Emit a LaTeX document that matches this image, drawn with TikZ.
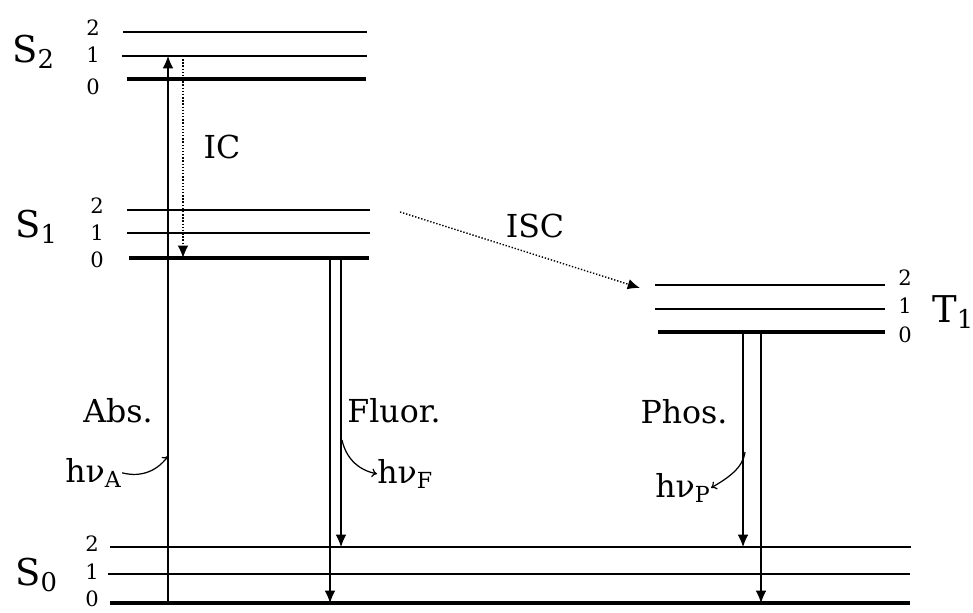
\documentclass[tikz,border=0pt]{standalone}
\usepackage{fontspec}
\setmainfont{DejaVu Serif}
\usetikzlibrary{arrows.meta}

\begin{document}
\begin{tikzpicture}[x=0.02cm, y=-0.02cm,
    level/.style={line width=0.9pt},
    ground/.style={line width=1.8pt},
    trans/.style={line width=0.6pt, -{Latex[length=7pt, width=6pt]}},
    nonrad/.style={line width=0.8pt, densely dotted, -{Latex[length=7pt, width=6pt]}},
    photon/.style={line width=0.7pt, -{To[length=3pt, width=5pt]}},
    lbl/.style={inner sep=0pt, font=\fontsize{18}{20}\selectfont},
    state/.style={inner sep=0pt, anchor=base west, font=\fontsize{21}{24}\selectfont},
    num/.style={inner sep=0pt, font=\fontsize{12}{14}\selectfont}]
    \useasboundingbox (0,0) rectangle (973,612);
    % ── Niveaux S2 ──────────────────────────────────────────────────────────
    \draw[level]  (123,32) -- (367,32);
    \draw[level]  (122,56) -- (367,56);
    \draw[ground] (127,79) -- (366,79);
    \node[state] (S2) at (12,62) {S\textsubscript{2}};
    \node[num] (S2n2) at (93,28) {2};
    \node[num] (S2n1) at (93,55) {1};
    \node[num] (S2n0) at (93,87) {0};
    % ── Niveaux S1 ──────────────────────────────────────────────────────────
    \draw[level]  (127,210) -- (370,210);
    \draw[level]  (127,233) -- (370,233);
    \draw[ground] (129,258) -- (369,258);
    \node[state] (S1) at (15,237) {S\textsubscript{1}};
    \node[num] (S1n2) at (97,206) {2};
    \node[num] (S1n1) at (97,233) {1};
    \node[num] (S1n0) at (97,260) {0};
    % ── Niveaux T1 ──────────────────────────────────────────────────────────
    \draw[level]  (655,285) -- (885,285);
    \draw[level]  (655,309) -- (885,309);
    \draw[ground] (658,332) -- (885,332);
    \node[state] (T1) at (932,322) {T\textsubscript{1}};
    \node[num] (T1n2) at (905,278) {2};
    \node[num] (T1n1) at (905,306) {1};
    \node[num] (T1n0) at (905,335) {0};
    % ── Niveaux S0 ──────────────────────────────────────────────────────────
    \draw[level]  (110,547) -- (911,547);
    \draw[level]  (108,574) -- (910,574);
    \draw[ground] (110,603) -- (910,603);
    \node[state] (S0) at (15,585) {S\textsubscript{0}};
    \node[num] (S0n2) at (92,544) {2};
    \node[num] (S0n1) at (92,572) {1};
    \node[num] (S0n0) at (92,599) {0};
    % ── Points des transitions ──────────────────────────────────────────────
    \coordinate (absLo) at (168,603);
    \coordinate (absHi) at (168,56);
    \coordinate (icHi)  at (183,56);
    \coordinate (icLo)  at (183,258);
    \coordinate (iscA)  at (400,212);
    \coordinate (iscB)  at (640,288);
    \coordinate (flA)   at (330,258);
    \coordinate (flA0)  at (330,603);
    \coordinate (flB)   at (341,258);
    \coordinate (flB2)  at (341,547);
    \coordinate (phA)   at (743,332);
    \coordinate (phA2)  at (743,547);
    \coordinate (phB)   at (761,332);
    \coordinate (phB0)  at (761,603);
    % ── Transitions ─────────────────────────────────────────────────────────
    \draw[trans]  (absLo) -- (absHi);
    \draw[nonrad] (icHi) -- (icLo);
    \draw[nonrad] (iscA) -- (iscB);
    \draw[trans]  (flA) -- (flA0);
    \draw[trans]  (flB) -- (flB2);
    \draw[trans]  (phA) -- (phA2);
    \draw[trans]  (phB) -- (phB0);
    % ── Etiquettes ──────────────────────────────────────────────────────────
    \node[lbl, anchor=base] (ic)    at (222,158) {IC};
    \node[lbl, anchor=base] (isc)   at (535,237) {ISC};
    \node[lbl, anchor=base] (abs)   at (118,422) {Abs.};
    \node[lbl, anchor=base] (fluor) at (394,422) {Fluor.};
    \node[lbl, anchor=base] (phos)  at (684,423) {Phos.};
    \node[lbl, anchor=base west] (hnuA) at (65,482)  {hν\textsubscript{A}};
    \node[lbl, anchor=base west] (hnuF) at (377,483) {hν\textsubscript{F}};
    \node[lbl, anchor=base west] (hnuP) at (655,497) {hν\textsubscript{P}};
    % ── Photons ─────────────────────────────────────────────────────────────
    \coordinate (absMark) at (168,456);
    \coordinate (flMark)  at (342,440);
    \coordinate (phMark)  at (745,452);
    \draw[photon] (hnuA.east) .. controls (142,478) and (158,470) .. (absMark);
    \draw[photon] (flMark) .. controls (346,458) and (358,470) .. (hnuF.west);
    \draw[photon] (phMark) .. controls (743,468) and (728,478) .. (hnuP.east);
\end{tikzpicture}
\end{document}
